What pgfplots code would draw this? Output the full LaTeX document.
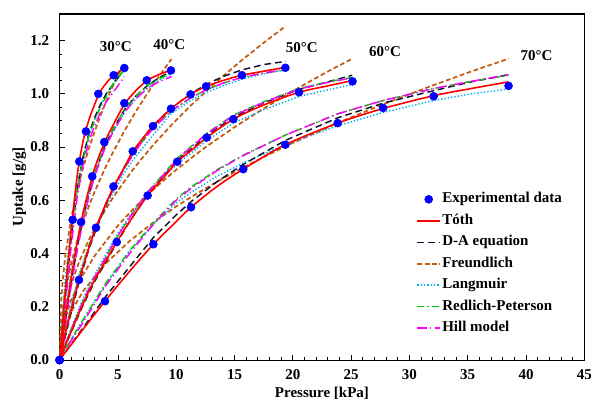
\documentclass[border=0pt]{standalone}
\usepackage{fontspec}
\setmainfont{Liberation Serif}
\usepackage{pgfplots}
\usepackage{pgfplotstable}
\pgfplotsset{compat=1.18}

\definecolor{tothred}{RGB}{255,0,0}
\definecolor{danavy}{RGB}{15,20,50}
\definecolor{frbrown}{RGB}{197,90,17}
\definecolor{lablue}{RGB}{0,176,240}
\definecolor{rpgreen}{RGB}{0,204,0}
\definecolor{hillmag}{RGB}{255,0,255}
\definecolor{expblue}{RGB}{0,0,255}

% experimental points, one table per temperature
\pgfplotstableread{
x     y
0     0
1.12  0.527
1.69  0.746
2.26  0.859
3.32  1.000
4.64  1.070
5.55  1.097
}\dthirty
\pgfplotstableread{
x     y
0     0
1.84  0.518
2.80  0.690
3.83  0.819
5.55  0.965
7.47  1.051
9.55  1.088
}\dforty
\pgfplotstableread{
x     y
0     0
1.66  0.301
3.12  0.497
4.62  0.652
6.27  0.784
8.01  0.879
9.55  0.944
11.23 0.998
12.56 1.028
15.64 1.070
19.36 1.098
}\dfifty
\pgfplotstableread{
x     y
0     0
4.90  0.443
7.55  0.618
10.09 0.745
12.62 0.836
14.90 0.905
20.53 1.006
25.12 1.047
}\dsixty
\pgfplotstableread{
x     y
0     0
3.89  0.221
8.04  0.435
11.27 0.574
15.75 0.717
19.36 0.809
23.85 0.890
27.74 0.947
32.08 0.991
38.50 1.030
}\dseventy

% fitted curves: T = Toth, DA = D-A, F = Freundlich, L = Langmuir, RP = Redlich-Peterson, H = Hill
\pgfplotstableread{
x     T     DA    F     L     RP    H
0     0     0     0     0     0     0
0.1   0.05  0.045 0.197 0.075 0.06  0.04
0.25  0.13  0.12  0.293 0.175 0.15  0.10
0.5   0.26  0.24  0.396 0.313 0.28  0.21
1.0   0.49  0.46  0.534 0.515 0.49  0.43
1.5   0.69  0.64  0.636 0.655 0.64  0.61
2.0   0.82  0.76  0.720 0.760 0.75  0.73
2.5   0.90  0.85  0.793 0.839 0.84  0.82
3.0   0.96  0.91  0.858 0.903 0.90  0.88
3.5   1.01  0.96  0.917 0.954 0.95  0.93
4.0   1.04  1.00  0.972 0.997 0.99  0.97
4.5   1.065 1.03  1.023 1.033 1.03  1.00
5.0   1.08  1.06  1.070 1.063 1.06  1.03
5.55  1.10  1.09  1.115 1.093 1.09  1.065
}\tthirty
\pgfplotstableread{
x     T     DA    F     L     RP    H
0     0     0     0     0     0     0
0.1   0.032 0.03  0.115 0.04  0.036 0.028
0.25  0.08  0.075 0.183 0.095 0.088 0.07
0.5   0.16  0.15  0.258 0.18  0.17  0.14
1.0   0.31  0.29  0.365 0.33  0.32  0.28
1.5   0.44  0.42  0.447 0.45  0.44  0.41
2.0   0.55  0.53  0.516 0.55  0.54  0.52
2.5   0.64  0.62  0.577 0.63  0.63  0.61
3.0   0.72  0.70  0.632 0.70  0.70  0.69
3.83  0.815 0.80  0.714 0.79  0.80  0.79
4.5   0.875 0.86  0.774 0.85  0.86  0.85
5.55  0.96  0.94  0.860 0.93  0.94  0.93
6.5   1.01  0.99  0.931 0.98  0.99  0.98
7.5   1.05  1.03  1.000 1.02  1.03  1.02
8.5   1.072 1.06  1.064 1.05  1.055 1.045
9.6   1.09  1.085 1.131 1.075 1.08  1.065
}\tforty
\pgfplotstableread{
x     T     DA    F     L     RP    H
0     0     0     0     0     0     0
0.1   0.02  0.018 0.090 0.025 0.022 0.02
0.25  0.05  0.045 0.143 0.06  0.055 0.05
0.5   0.10  0.09  0.202 0.115 0.11  0.10
1.0   0.19  0.18  0.285 0.21  0.20  0.19
1.66  0.30  0.29  0.367 0.32  0.31  0.30
2.5   0.42  0.415 0.451 0.43  0.43  0.42
3.12  0.497 0.49  0.503 0.50  0.50  0.50
4.0   0.59  0.585 0.570 0.58  0.59  0.59
4.62  0.65  0.645 0.613 0.63  0.645 0.645
5.5   0.72  0.72  0.668 0.70  0.715 0.715
6.27  0.783 0.78  0.714 0.75  0.77  0.77
7.0   0.825 0.825 0.754 0.79  0.815 0.815
8.01  0.879 0.88  0.807 0.845 0.87  0.87
9.55  0.944 0.945 0.881 0.925 0.935 0.935
11.23 0.998 1.00  0.955 0.975 0.985 0.985
12.56 1.028 1.035 1.010 1.005 1.015 1.015
14.0  1.05  1.065 1.066 1.03  1.04  1.04
15.64 1.07  1.09  1.127 1.055 1.062 1.062
17.5  1.085 1.11  1.192 1.075 1.078 1.078
19.4  1.10  1.122 1.255 1.09  1.09  1.092
}\tfifty
\pgfplotstableread{
x     T     DA    F     L     RP    H
0     0     0     0     0     0     0
0.1   0.011 0.011 0.071 0.013 0.012 0.012
0.25  0.027 0.027 0.113 0.032 0.03  0.03
0.5   0.055 0.054 0.160 0.063 0.06  0.06
1.0   0.108 0.105 0.226 0.12  0.115 0.115
2.0   0.21  0.205 0.320 0.23  0.22  0.22
3.0   0.30  0.295 0.391 0.32  0.31  0.31
4.9   0.443 0.44  0.500 0.47  0.46  0.46
6.0   0.52  0.52  0.553 0.54  0.535 0.535
7.55  0.618 0.62  0.621 0.625 0.632 0.63
9.0   0.69  0.695 0.678 0.69  0.703 0.70
10.09 0.745 0.75  0.718 0.738 0.758 0.755
11.5  0.795 0.80  0.766 0.785 0.81  0.808
12.62 0.836 0.843 0.803 0.825 0.852 0.85
14.9  0.905 0.912 0.872 0.89  0.92  0.918
17.5  0.958 0.966 0.945 0.94  0.97  0.968
20.53 1.006 1.017 1.024 0.99  1.02  1.018
23.0  1.03  1.045 1.084 1.015 1.045 1.043
25.1  1.05  1.07  1.132 1.035 1.062 1.06
}\tsixty
\pgfplotstableread{
x     T     DA    F     L     RP    H
0     0     0     0     0     0     0
0.1   0.006 0.006 0.058 0.008 0.008 0.007
0.25  0.015 0.015 0.091 0.02  0.02  0.018
0.5   0.03  0.03  0.129 0.04  0.04  0.037
1.0   0.058 0.06  0.182 0.078 0.078 0.073
2.0   0.115 0.12  0.258 0.15  0.15  0.14
3.89  0.221 0.235 0.360 0.28  0.285 0.275
6.0   0.333 0.35  0.447 0.41  0.41  0.40
8.04  0.435 0.46  0.517 0.51  0.515 0.51
10.0  0.52  0.545 0.577 0.59  0.605 0.60
11.27 0.574 0.595 0.612 0.63  0.65  0.645
13.5  0.652 0.67  0.670 0.69  0.715 0.712
15.75 0.717 0.735 0.724 0.74  0.77  0.768
19.36 0.809 0.825 0.803 0.81  0.845 0.845
23.85 0.89  0.91  0.891 0.88  0.925 0.925
27.74 0.945 0.965 0.961 0.93  0.975 0.975
32.08 0.993 1.012 1.033 0.975 1.02  1.02
35.3  1.02  1.045 1.084 1.00  1.047 1.047
38.5  1.045 1.072 1.132 1.018 1.07  1.072
}\tseventy

\pgfplotsset{
  toth/.style={tothred, line width=1.2pt, forget plot},
  dastyle/.style={danavy, line width=1.1pt, dash pattern=on 5pt off 3pt, forget plot},
  frstyle/.style={frbrown, line width=1.3pt, dash pattern=on 3.5pt off 2pt, forget plot},
  lastyle/.style={lablue, line width=1.1pt, dash pattern=on 1pt off 1.5pt, forget plot},
  rpstyle/.style={rpgreen, line width=1.1pt, dash pattern=on 5pt off 2.5pt on 1pt off 2.5pt, forget plot},
  hillstyle/.style={hillmag, line width=1.1pt, dash pattern=on 7pt off 2.5pt on 1pt off 2.5pt, forget plot},
  expstyle/.style={only marks, mark=*, mark size=3pt, expblue, forget plot},
}

\begin{document}
\fontsize{11.25}{13.5}\selectfont\bfseries
\begin{tikzpicture}
\path[use as bounding box] (-44.7pt,-32.25pt) rectangle (400pt,270pt);
\begin{axis}[
  scale only axis, width=393.5pt, height=259.5pt,
  xmin=0, xmax=45, ymin=0, ymax=1.3,
  xtick={0,5,10,15,20,25,30,35,40,45},
  ytick={0,0.2,0.4,0.6,0.8,1.0,1.2},
  minor x tick num=4, minor y tick num=3,
  tick align=inside, xtick pos=left, ytick pos=left,
  major tick length=4pt, minor tick length=2pt,
  every tick/.style={black, line width=0.6pt},
  axis line style={line width=0.8pt},
  /pgf/number format/assume math mode=true,
  ticklabel style={font=\fontsize{11.25}{13.5}\selectfont\bfseries},
  yticklabel style={xshift=-4pt, /pgf/number format/.cd, fixed, fixed zerofill, precision=1},
  xticklabel style={yshift=-3.5pt},
  xlabel={Pressure [kPa]}, ylabel={Uptake [g/g]},
  xlabel style={at={(axis description cs:0.5,-0.095)}, anchor=center},
  ylabel style={at={(axis description cs:-0.077,0.5)}, anchor=center},
  legend cell align=left,
  legend style={at={(0.672,0.497)}, anchor=north west, draw=none, fill=none,
    row sep=3.6pt, nodes={inner sep=1pt, text height=8pt, text depth=2.5pt}},
]
\addlegendimage{only marks, mark=*, mark size=3pt, expblue}
\addlegendentry{Experimental data}
\addlegendimage{tothred, line width=1.2pt}
\addlegendentry{Tóth}
\addlegendimage{danavy, line width=1.1pt, dash pattern=on 5pt off 3pt}
\addlegendentry{D-A equation}
\addlegendimage{frbrown, line width=1.3pt, dash pattern=on 3.5pt off 2pt}
\addlegendentry{Freundlich}
\addlegendimage{lablue, line width=1.1pt, dash pattern=on 1pt off 1.5pt}
\addlegendentry{Langmuir}
\addlegendimage{rpgreen, line width=1.1pt, dash pattern=on 5pt off 2.5pt on 1pt off 2.5pt}
\addlegendentry{Redlich-Peterson}
\addlegendimage{hillmag, line width=1.1pt, dash pattern=on 7pt off 2.5pt on 1pt off 2.5pt}
\addlegendentry{Hill model}

% Freundlich
\addplot[frstyle] table[x=x,y=F]{\tthirty};
\addplot[frstyle] table[x=x,y=F]{\tforty};
\addplot[frstyle] table[x=x,y=F]{\tfifty};
\addplot[frstyle] table[x=x,y=F]{\tsixty};
\addplot[frstyle] table[x=x,y=F]{\tseventy};
% Langmuir
\addplot[lastyle] table[x=x,y=L]{\tthirty};
\addplot[lastyle] table[x=x,y=L]{\tforty};
\addplot[lastyle] table[x=x,y=L]{\tfifty};
\addplot[lastyle] table[x=x,y=L]{\tsixty};
\addplot[lastyle] table[x=x,y=L]{\tseventy};
% D-A
\addplot[dastyle] table[x=x,y=DA]{\tthirty};
\addplot[dastyle] table[x=x,y=DA]{\tforty};
\addplot[dastyle] table[x=x,y=DA]{\tfifty};
\addplot[dastyle] table[x=x,y=DA]{\tsixty};
\addplot[dastyle] table[x=x,y=DA]{\tseventy};
% Redlich-Peterson
\addplot[rpstyle] table[x=x,y=RP]{\tthirty};
\addplot[rpstyle] table[x=x,y=RP]{\tforty};
\addplot[rpstyle] table[x=x,y=RP]{\tfifty};
\addplot[rpstyle] table[x=x,y=RP]{\tsixty};
\addplot[rpstyle] table[x=x,y=RP]{\tseventy};
% Hill
\addplot[hillstyle] table[x=x,y=H]{\tthirty};
\addplot[hillstyle] table[x=x,y=H]{\tforty};
\addplot[hillstyle] table[x=x,y=H]{\tfifty};
\addplot[hillstyle] table[x=x,y=H]{\tsixty};
\addplot[hillstyle] table[x=x,y=H]{\tseventy};
% Toth
\addplot[toth, smooth] table[x=x,y=T]{\tthirty};
\addplot[toth, smooth] table[x=x,y=T]{\tforty};
\addplot[toth, smooth] table[x=x,y=T]{\tfifty};
\addplot[toth, smooth] table[x=x,y=T]{\tsixty};
\addplot[toth, smooth] table[x=x,y=T]{\tseventy};
% experimental data
\addplot[expstyle] table[x=x,y=y]{\dthirty};
\addplot[expstyle] table[x=x,y=y]{\dforty};
\addplot[expstyle] table[x=x,y=y]{\dfifty};
\addplot[expstyle] table[x=x,y=y]{\dsixty};
\addplot[expstyle] table[x=x,y=y]{\dseventy};

\node at (axis cs:4.81,1.179) {30°C};
\node at (axis cs:9.41,1.185) {40°C};
\node at (axis cs:20.76,1.173) {50°C};
\node at (axis cs:27.9,1.160) {60°C};
\node at (axis cs:40.9,1.144) {70°C};
\end{axis}
\end{tikzpicture}
\end{document}
